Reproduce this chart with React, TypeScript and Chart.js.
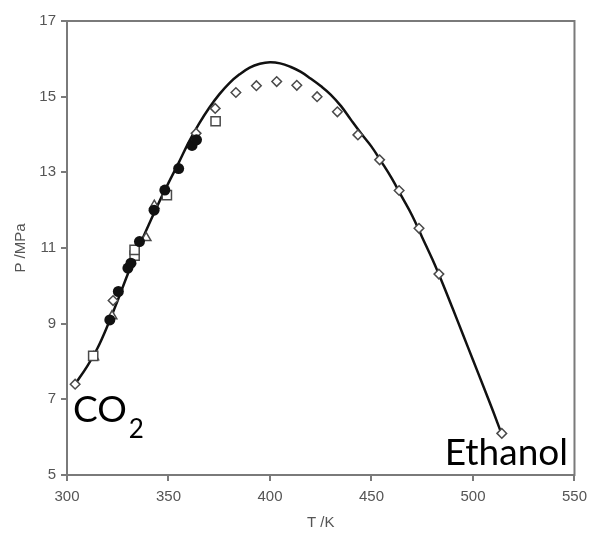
import React, { useEffect, useRef } from "react";
import { Chart, registerables } from "chart.js";

Chart.register(...registerables);

// Model curve (critical line) T /K, P /MPa
const curveT = [304, 310, 315, 320, 325, 330, 335, 340, 345, 350, 355, 360, 365, 370, 375, 380, 385, 390, 395, 400, 405, 410, 415, 420, 425, 430, 435, 440, 445, 450, 455, 460, 465, 470, 475, 480, 485, 490, 495, 500, 505, 510, 514];
const curveP = [7.40, 7.88, 8.35, 8.95, 9.62, 10.32, 10.98, 11.58, 12.17, 12.72, 13.25, 13.80, 14.28, 14.70, 15.06, 15.36, 15.59, 15.77, 15.87, 15.91, 15.88, 15.79, 15.66, 15.48, 15.28, 15.05, 14.75, 14.38, 14.02, 13.68, 13.27, 12.84, 12.35, 11.86, 11.28, 10.70, 10.07, 9.40, 8.72, 8.04, 7.36, 6.67, 6.10];

// Experimental points
const diamondT = [304, 322.7, 363.6, 373, 383.2, 393.3, 403.3, 413.2, 423.2, 433.2, 443.3, 454, 463.6, 473.4, 483.2, 514.2];
const diamondP = [7.40, 9.61, 14.03, 14.69, 15.11, 15.29, 15.40, 15.30, 15.00, 14.60, 13.99, 13.33, 12.52, 11.52, 10.31, 6.10];

const squareT = [312.9, 333.3, 333.3, 349.2, 373.2];
const squareP = [8.15, 10.80, 10.95, 12.40, 14.35];

const triangleT = [313.2, 322.2, 339, 343];
const triangleP = [8.12, 9.20, 11.27, 12.12];

const circleT = [321.1, 325.3, 330, 331.5, 335.7, 342.9, 348.2, 355, 361.6, 363.8];
const circleP = [9.10, 9.85, 10.47, 10.60, 11.17, 12.00, 12.53, 13.10, 13.71, 13.86];

const xTickValues = [300, 350, 400, 450, 500, 550];
const yTickValues = [5, 7, 9, 11, 13, 15, 17];

const zip = (xs: number[], ys: number[]) => xs.map((x, i) => ({ x, y: ys[i] }));

const frameAndLabels = {
  id: "frameAndLabels",
  afterDraw(chart: any) {
    const { ctx, chartArea } = chart;
    const { left, right, top, bottom } = chartArea;
    ctx.save();
    ctx.strokeStyle = "#7a7a7a";
    ctx.lineWidth = 2;
    ctx.strokeRect(left, top, right - left, bottom - top);

    ctx.fillStyle = "#000";
    ctx.textBaseline = "alphabetic";
    ctx.font = "37px Lato";
    ctx.textAlign = "left";
    ctx.fillText("CO", 73, 422);
    const coW = ctx.measureText("CO").width;
    ctx.font = "26px Lato";
    ctx.fillText("2", 73 + coW + 2, 438);

    ctx.font = "37px Lato";
    ctx.textAlign = "right";
    ctx.fillText("Ethanol", 568, 465);
    ctx.restore();
  },
};

export default function App() {
  const ref = useRef<HTMLCanvasElement | null>(null);

  useEffect(() => {
    if (!ref.current) return;
    const markerStroke = "#4a4a4a";
    const chart = new Chart(ref.current, {
      type: "scatter",
      data: {
        datasets: [
          {
            label: "circles",
            data: zip(circleT, circleP),
            pointStyle: "circle",
            pointRadius: 5.5,
            backgroundColor: "#111",
            borderColor: "#111",
            borderWidth: 0,
          },
          {
            label: "diamonds",
            data: zip(diamondT, diamondP),
            pointStyle: "rectRot",
            pointRadius: 4.8,
            backgroundColor: "#fff",
            borderColor: markerStroke,
            borderWidth: 1.5,
          },
          {
            label: "squares",
            data: zip(squareT, squareP),
            pointStyle: "rect",
            pointRadius: 6.5,
            backgroundColor: "#fff",
            borderColor: markerStroke,
            borderWidth: 1.5,
          },
          {
            label: "triangles",
            data: zip(triangleT, triangleP),
            pointStyle: "triangle",
            pointRadius: 5.5,
            backgroundColor: "#fff",
            borderColor: markerStroke,
            borderWidth: 1.5,
          },
          {
            type: "line",
            label: "curve",
            data: zip(curveT, curveP),
            showLine: true,
            borderColor: "#111",
            borderWidth: 2.5,
            pointRadius: 0,
            tension: 0.4,
            fill: false,
          } as any,
        ],
      },
      options: {
        animation: false,
        responsive: true,
        maintainAspectRatio: false,
        layout: { padding: { top: 21, right: 17, left: 0, bottom: 0 } },
        plugins: {
          legend: { display: false },
          tooltip: { enabled: false },
        },
        scales: {
          x: {
            type: "linear",
            min: 300,
            max: 550,
            afterBuildTicks: (scale: any) => {
              scale.ticks = xTickValues.map((v) => ({ value: v }));
            },
            afterFit: (scale: any) => {
              scale.height = 58;
            },
            ticks: {
              color: "#555",
              font: { family: "Liberation Sans", size: 15 },
              padding: 7,
            },
            grid: {
              drawOnChartArea: false,
              drawTicks: true,
              tickLength: 6,
              color: "#7a7a7a",
              lineWidth: 2,
            },
            border: { display: true, color: "#7a7a7a", width: 2 },
            title: {
              display: true,
              text: "T /K",
              color: "#555",
              font: { family: "Liberation Sans", size: 15 },
              padding: { top: 4, bottom: 1 },
            },
          },
          y: {
            type: "linear",
            min: 5,
            max: 17,
            afterBuildTicks: (scale: any) => {
              scale.ticks = yTickValues.map((v) => ({ value: v }));
            },
            afterFit: (scale: any) => {
              scale.width = 67;
            },
            ticks: {
              color: "#555",
              font: { family: "Liberation Sans", size: 15 },
              padding: 5,
            },
            grid: {
              drawOnChartArea: false,
              drawTicks: true,
              tickLength: 6,
              color: "#7a7a7a",
              lineWidth: 2,
            },
            border: { display: true, color: "#7a7a7a", width: 2 },
            title: {
              display: true,
              text: "P /MPa",
              color: "#555",
              font: { family: "Liberation Sans", size: 15 },
              padding: { top: 12, bottom: 4 },
            },
          },
        },
      },
      plugins: [frameAndLabels],
    });
    return () => chart.destroy();
  }, []);

  return (
    <div style={{ position: "fixed", left: 0, top: 0, width: 594, height: 533, background: "#fff" }}>
      <canvas ref={ref} />
    </div>
  );
}
